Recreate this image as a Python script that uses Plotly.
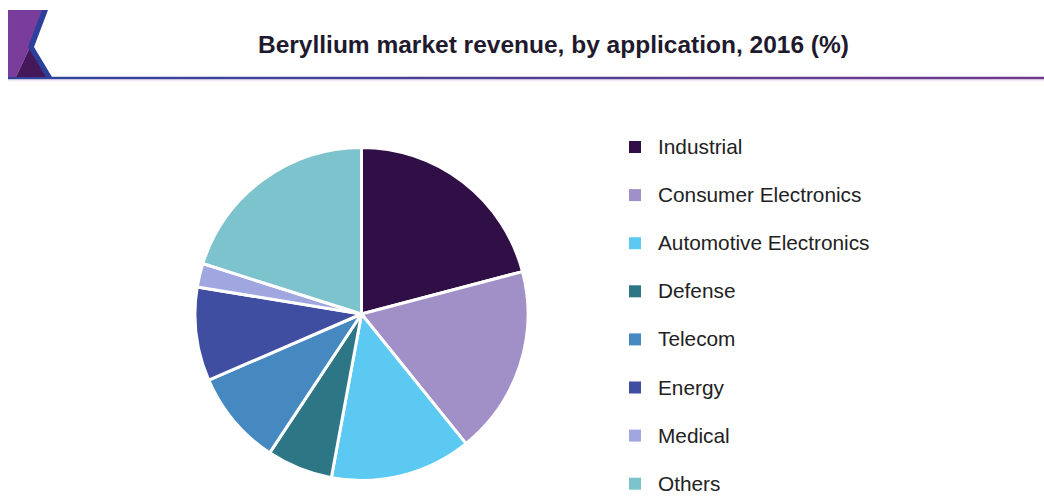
import base64
import plotly.graph_objects as go

W, H = 1044, 497

# Revenue share by application, 2016 (%)
applications = ["Industrial", "Consumer Electronics", "Automotive Electronics",
                "Defense", "Telecom", "Energy", "Medical", "Others"]
shares = [20.9, 18.3, 13.7, 6.4, 9.2, 9.1, 2.3, 20.1]
colors = ["#2f0f45", "#a18fc7", "#5cc9f2", "#2d7686",
          "#4689c1", "#3f4ea1", "#a0a7e0", "#7cc3cd"]

title_text = "Beryllium market revenue, by application, 2016 (%)"


def px(x):
    return x / W


def py(y):
    return 1 - y / H


fig = go.Figure()

fig.add_trace(go.Pie(
    labels=applications,
    values=shares,
    marker=dict(colors=colors, line=dict(color="white", width=3)),
    sort=False,
    direction="clockwise",
    rotation=0,
    textinfo="none",
    hoverinfo="label+percent",
    showlegend=False,
    domain=dict(x=[px(195), px(528)], y=[py(481), py(147)]),
))

shapes = []

# Header rule: gradient strip (blue -> purple) with a faint glow below it
rule_svg = (
    '<svg xmlns="http://www.w3.org/2000/svg" width="1036" height="5" '
    'preserveAspectRatio="none" viewBox="0 0 1036 5">'
    '<defs><linearGradient id="g" x1="0" y1="0" x2="1" y2="0">'
    '<stop offset="0" stop-color="#30449c"/>'
    '<stop offset="1" stop-color="#703a8c"/>'
    '</linearGradient></defs>'
    '<rect x="0" y="0" width="1036" height="3" fill="url(#g)"/>'
    '<rect x="0" y="3" width="1036" height="2" fill="#f1e8f5"/>'
    '</svg>'
)
rule_src = "data:image/svg+xml;base64," + base64.b64encode(rule_svg.encode()).decode()


def path(points):
    s = "M " + " L ".join("%f,%f" % (px(a), py(b)) for a, b in points)
    return s + " Z"


# Logo mark
shapes.append(dict(type="path", xref="paper", yref="paper",
                   path=path([(8, 10), (45, 10), (30, 47), (16, 77), (8, 77)]),
                   fillcolor="#7a3d9c", line=dict(width=0)))
shapes.append(dict(type="path", xref="paper", yref="paper",
                   path=path([(30, 47), (16, 77), (48, 77)]),
                   fillcolor="#45185a", line=dict(width=0)))
shapes.append(dict(type="path", xref="paper", yref="paper",
                   path=path([(42, 10), (48, 10), (34, 47), (52, 77), (46, 77), (28, 47)]),
                   fillcolor="#2c3f9b", line=dict(width=0)))

annotations = [dict(
    text="<b>%s</b>" % title_text, x=px(553), y=py(44), xref="paper", yref="paper",
    showarrow=False, xanchor="center", yanchor="middle",
    font=dict(family="Liberation Sans, Arial, sans-serif", size=24.5, color="#1f1a2e"),
)]

# Legend: swatch and label for each application
legend_top, legend_step = 147, 48.1
for i, (name, col) in enumerate(zip(applications, colors)):
    yc = legend_top + i * legend_step
    shapes.append(dict(type="rect", xref="paper", yref="paper",
                       x0=px(629), x1=px(641), y0=py(yc + 6), y1=py(yc - 6),
                       fillcolor=col, line=dict(width=0)))
    annotations.append(dict(
        text=name, x=px(656), y=py(yc - 0.5), xref="paper", yref="paper",
        showarrow=False, xanchor="left", yanchor="middle",
        font=dict(family="Liberation Sans, Arial, sans-serif", size=20.8, color="#222222"),
    ))

fig.update_layout(
    width=W, height=H,
    margin=dict(l=0, r=0, t=0, b=0),
    paper_bgcolor="white",
    plot_bgcolor="white",
    shapes=shapes,
    annotations=annotations,
    images=[dict(source=rule_src, xref="paper", yref="paper",
                 x=px(8), y=py(76.5), sizex=px(1044) - px(8), sizey=5 / H,
                 xanchor="left", yanchor="top", sizing="stretch", layer="above")],
    showlegend=False,
)

fig.write_html("out.html")
